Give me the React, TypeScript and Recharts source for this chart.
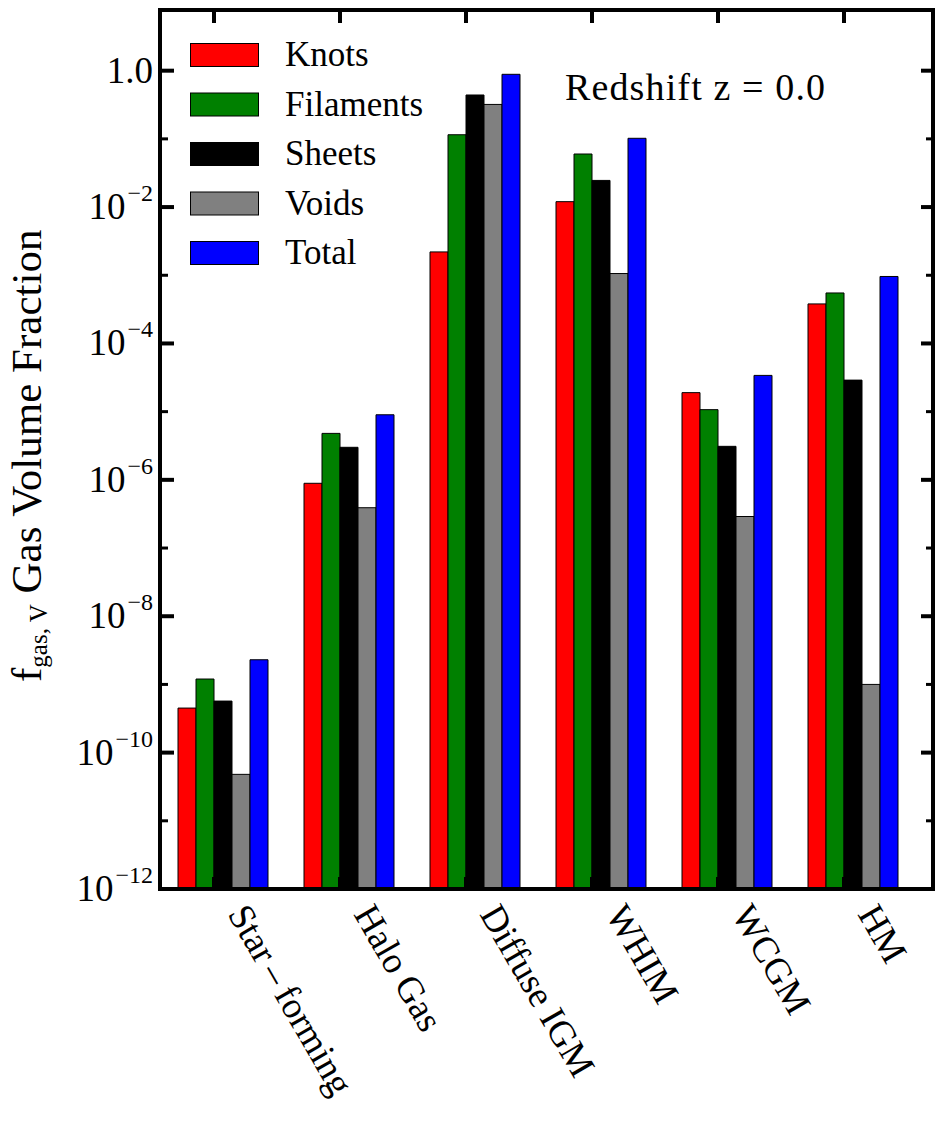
import React from 'react';
import { BarChart, Bar, XAxis, YAxis, Legend, ReferenceLine } from 'recharts';

const categories = ['Star\u2009\u2013\u2009forming', 'Halo Gas', 'Diffuse IGM', 'WHIM', 'WCGM', 'HM'];
const knots = [4.5e-10, 8.9e-7, 2.2e-3, 1.2e-2, 1.9e-5, 3.8e-4];
const filaments = [1.2e-9, 4.8e-6, 0.115, 0.06, 1.07e-5, 5.5e-4];
const sheets = [5.7e-10, 3.0e-6, 0.44, 0.0246, 3.1e-6, 2.9e-5];
const voids = [4.8e-11, 3.9e-7, 0.32, 1.06e-3, 2.9e-7, 1.0e-9];
const total = [2.3e-9, 9.0e-6, 0.885, 0.102, 3.4e-5, 9.6e-4];

const seriesNames = ['Knots', 'Filaments', 'Sheets', 'Voids', 'Total'];
const seriesColors = ['#ff0000', '#008000', '#000000', '#808080', '#0000ff'];
const seriesValues = [knots, filaments, sheets, voids, total];

const yTicks = [1e-12, 1e-11, 1e-10, 1e-9, 1e-8, 1e-7, 1e-6, 1e-5, 1e-4, 1e-3, 1e-2, 1e-1, 1];
const yDomain = [1e-12, 7.76];

const data = categories.map((name, i) => {
  const row: Record<string, any> = { name };
  seriesNames.forEach((s, k) => {
    row[s] = seriesValues[k][i];
  });
  return row;
});

const FONT = '"Liberation Serif", "Times New Roman", serif';

const LeftTick = (props: any) => {
  const { x, y, payload } = props;
  const exp = Math.round(Math.log10(payload.value));
  const major = exp % 2 === 0;
  return (
    <g>
      <line x1={x} x2={x + (major ? 14 : 8)} y1={y} y2={y} stroke="#000" strokeWidth={major ? 4 : 3} />
      {major &&
        (exp === 0 ? (
          <text x={x - 7} y={y + 12} textAnchor="end" fontSize={37} fontFamily={FONT} fill="#000">
            1.0
          </text>
        ) : (
          <text x={x - 7} y={y + 12} textAnchor="end" fontSize={37} fontFamily={FONT} fill="#000">
            10
            <tspan dx={2} dy={-18} fontSize={24}>
              {'\u2212' + String(-exp)}
            </tspan>
          </text>
        ))}
    </g>
  );
};

const RightTick = (props: any) => {
  const { x, y, payload } = props;
  const exp = Math.round(Math.log10(payload.value));
  const major = exp % 2 === 0;
  return <line x1={x} x2={x - (major ? 12 : 7)} y1={y} y2={y} stroke="#000" strokeWidth={major ? 4 : 3} />;
};

const BottomTick = (props: any) => {
  const { x, y, payload } = props;
  const ax = x + 4;
  const ay = y + 25;
  return (
    <text
      x={ax}
      y={ay}
      transform={`rotate(60 ${ax} ${ay})`}
      textAnchor="start"
      fontSize={37}
      fontFamily={FONT}
      fill="#000"
    >
      {payload.value}
    </text>
  );
};

// Inward tick marks on the top and bottom frame, drawn at each category position
const TickPair = (props: any) => {
  const { x1, y1, y2 } = props;
  if (x1 == null || y1 == null || y2 == null) return <g />;
  const x = Number(x1) - 9;
  const top = Math.min(Number(y1), Number(y2));
  const bot = Math.max(Number(y1), Number(y2));
  return (
    <g>
      <line x1={x} x2={x} y1={top} y2={top + 13} stroke="#000" strokeWidth={4} />
      <line x1={x} x2={x} y1={bot - 12} y2={bot} stroke="#000" strokeWidth={4} />
    </g>
  );
};

const renderLegend = () => {
  return (
    <svg width={270} height={260} style={{ display: 'block', overflow: 'visible' }}>
      {seriesNames.map((name, i) => {
        const top = i * 49.5;
        return (
          <g key={name}>
            <rect x={0.5} y={top + 0.5} width={68} height={23} fill={seriesColors[i]} stroke="#000" strokeWidth={1} />
            <text x={95} y={top + 23} fontSize={35} fontFamily={FONT} fill="#000">
              {name}
            </text>
          </g>
        );
      })}
    </svg>
  );
};

const YLabel = () => (
  <text
    x={41}
    y={682}
    transform="rotate(-90 41 682)"
    fontSize={43}
    fontFamily={FONT}
    fill="#000"
    textAnchor="start"
  >
    f
    <tspan dy={6} fontSize={25}>
      gas, V
    </tspan>
    <tspan dy={-6} fontSize={43}>
      {' Gas Volume Fraction'}
    </tspan>
  </text>
);

const axisLineStyle = { stroke: '#000', strokeWidth: 4, strokeLinecap: 'square' as const };

export default function App() {
  return (
    <div style={{ position: 'absolute', left: 0, top: 0, width: 945, height: 1128, background: '#fff' }}>
      <BarChart
        width={945}
        height={1128}
        data={data}
        margin={{ top: 9, right: 11, left: 0, bottom: 0 }}
        barCategoryGap={18}
        barGap={0}
      >
        {seriesNames.map((s, k) => (
          <Bar
            key={s}
            dataKey={s}
            name={s}
            fill={seriesColors[k]}
            stroke="#000"
            strokeWidth={1}
            isAnimationActive={false}
          />
        ))}
        {categories.map((c) => (
          <ReferenceLine key={c} x={c} stroke="#000" shape={TickPair} ifOverflow="visible" />
        ))}
        <XAxis
          xAxisId="top"
          dataKey="name"
          orientation="top"
          height={1}
          padding={{ left: 0, right: 17 }}
          tickLine={false}
          tick={false}
          axisLine={axisLineStyle}
          zIndex={1000}
        />
        <XAxis
          dataKey="name"
          height={239}
          padding={{ left: 0, right: 17 }}
          tickSize={0}
          tickMargin={0}
          tickLine={false}
          axisLine={axisLineStyle}
          tick={<BottomTick />}
          interval={0}
          zIndex={1000}
        />
        <YAxis
          type="number"
          scale="log"
          domain={yDomain}
          allowDataOverflow
          ticks={yTicks}
          interval={0}
          width={160}
          tickSize={0}
          tickMargin={0}
          tickLine={false}
          axisLine={axisLineStyle}
          tick={<LeftTick />}
          label={{ content: () => <YLabel /> }}
          zIndex={1000}
        />
        <YAxis
          yAxisId="right"
          orientation="right"
          type="number"
          scale="log"
          domain={yDomain}
          allowDataOverflow
          ticks={yTicks}
          interval={0}
          width={1}
          tickSize={0}
          tickMargin={0}
          tickLine={false}
          axisLine={axisLineStyle}
          tick={<RightTick />}
          zIndex={1000}
        />
        <Legend
          layout="vertical"
          align="center"
          verticalAlign="middle"
          content={renderLegend}
          wrapperStyle={{ position: 'absolute', left: 190, top: 43, width: 270, height: 260 }}
        />
      </BarChart>
      <svg
        width={945}
        height={1128}
        style={{ position: 'absolute', left: 0, top: 0, pointerEvents: 'none' }}
      >
        <text x={565} y={100} fontSize={38} fontFamily={FONT} fill="#000" textLength={260} lengthAdjust="spacing">
          Redshift z = 0.0
        </text>
      </svg>
    </div>
  );
}
